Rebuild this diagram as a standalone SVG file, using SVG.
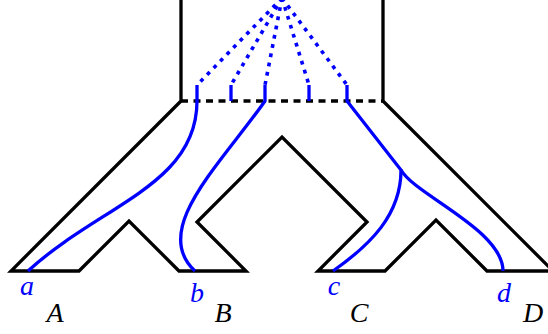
<svg xmlns="http://www.w3.org/2000/svg" width="548" height="334" viewBox="0 0 548 334">
<style>
.k{fill:none;stroke:#000;stroke-width:3.3;stroke-linejoin:miter}
.dash{fill:none;stroke:#000;stroke-width:3.3;stroke-dasharray:7 5.5}
.b{fill:none;stroke:#0000ff;stroke-width:3.3}
.dot{fill:none;stroke:#0000ff;stroke-width:3.6;stroke-dasharray:3.8 5.6}
.lb{font-family:"Liberation Serif",serif;font-style:italic;font-size:28px;text-anchor:middle}
</style>
<rect width="548" height="334" fill="#fff"/>
<g id="outline">
<path class="k" d="M181,0 V101 L11,271 H79 L129,221 L179,271 H246 L197,222 L282,137 L367,222 L318,271 H385 L436,220 L487,271 H550"/>
<path class="k" d="M383,0 V101 L553,271"/>
<path class="dash" d="M181,101 H383"/>
</g>
<g id="connectors">
<g id="dotted">
<path class="dot" d="M282,-2 L197,85"/>
<path class="dot" d="M282,-2 L231,85"/>
<path class="dot" d="M282,-2 L265,85"/>
<path class="dot" d="M282,-2 L309,85"/>
<path class="dot" d="M282,-2 L347,85"/>
</g>
<path class="b" d="M197,85 V101 C197,185 100,205 28,271"/>
<path class="b" d="M231,85 V101"/>
<path class="b" d="M265,85 V101 C220,165 150,230 195,271"/>
<path class="b" d="M309,85 V101"/>
<path class="b" d="M347,85 V101 L401,170 C401,215 370,245 333,271"/>
<path class="b" d="M401,170 C415,195 503,230 503,271"/>
</g>
<g id="labels">
<text class="lb" x="27" y="295" fill="#0000ff">a</text>
<text class="lb" x="197" y="302" fill="#0000ff">b</text>
<text class="lb" x="334" y="295" fill="#0000ff">c</text>
<text class="lb" x="504" y="302" fill="#0000ff">d</text>
<text class="lb" x="55" y="322" fill="#000">A</text>
<text class="lb" x="223" y="322" fill="#000">B</text>
<text class="lb" x="359" y="322" fill="#000">C</text>
<text class="lb" x="533" y="322" fill="#000">D</text>
</g>
</svg>
